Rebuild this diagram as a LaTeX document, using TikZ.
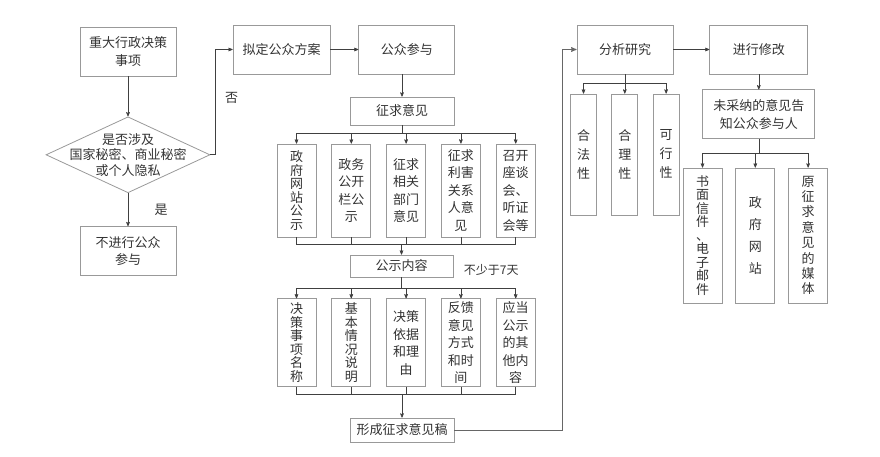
\documentclass[tikz,border=0pt]{standalone}
\usepackage{fontspec}
\setmainfont{Noto Sans CJK SC}
\usetikzlibrary{positioning, shapes.geometric, arrows}

\newcommand{\boxfont}{\fontsize{13}{17.5}\selectfont}
\newcommand{\colfont}{\fontsize{13}{13.5}\selectfont}

\begin{document}
\begin{tikzpicture}[
        x=1pt, y=-1pt,
        box/.style={
                draw=black!40,
                line width=0.8pt,
                text=black!80,
                inner sep=0pt,
                align=center,
                font=\boxfont
            },
        headbox/.style={box, minimum width=97pt, minimum height=49pt},
        flatbox/.style={box, minimum width=104pt, minimum height=25pt},
        tallbox/.style={box, minimum width=39pt, minimum height=93pt},
        shortbox/.style={box, minimum width=39pt, minimum height=88pt},
        slimbox/.style={box, minimum width=26pt, minimum height=121pt, font=\fontsize{13}{19}\selectfont},
        mediabox/.style={box, minimum width=39pt, minimum height=135pt},
        decision/.style={
                diamond,
                draw=black!40,
                line width=0.8pt,
                inner sep=0pt,
                minimum width=164pt,
                minimum height=76pt
            },
        tag/.style={text=black!80, font=\fontsize{13}{15}\selectfont},
        line/.style={draw=black!75, line width=0.6pt, ->},
        fork/.style={line, to path={-| (\tikztotarget)}},
        merge/.style={draw=black!75, line width=0.6pt, to path={|- (\tikztotarget)}},
        >= stealth'
    ]
    \useasboundingbox (0,0) rectangle (880,457);

    % left column
    \node[headbox, minimum width=96pt] (event) at (128,51.5) {重大行政决策\\事项};
    \node[decision] (secret) [below=40pt of event] {};
    \node[tag, align=center, font=\fontsize{13}{15.5}\selectfont] (secret_text) at (secret) {是否涉及\\国家秘密、商业秘密\\或个人隐私};
    \node[headbox, minimum width=96pt] (nopub) [below=33pt of secret] {不进行公众\\参与};

    % public participation
    \node[headbox] (plan) at (281.5,49.5) {拟定公众方案};
    \node[headbox, minimum width=96pt] (participate) [right=28pt of plan] {公众参与};
    \node[flatbox, minimum height=28pt] (solicit) at (402,111) {征求意见};

    \node[tallbox, font=\colfont] (a1) at (296.5,190.5) {政\\府\\网\\站\\公\\示};
    \node[tallbox] (a2) [right=15pt of a1] {政务\\公开\\栏公\\示};
    \node[tallbox] (a3) [right=15pt of a2] {征求\\相关\\部门\\意见};
    \node[tallbox] (a4) [right=15pt of a3] {征求\\利害\\关系\\人意\\见};
    \node[tallbox] (a5) [right=15pt of a4] {召开\\座谈\\会、\\听证\\会等};

    \node[flatbox, minimum width=103pt, minimum height=22pt] (notice) at (401.5,266) {公示内容};
    \node[tag, font=\fontsize{12}{14}\selectfont, yshift=-4pt] (days) [right=7pt of notice] {不少于7天};

    \node[shortbox, font=\colfont] (b1) [below=61pt of a1] {决\\策\\事\\项\\名\\称};
    \node[shortbox, font=\colfont] (b2) [right=15pt of b1] {基\\本\\情\\况\\说\\明};
    \node[shortbox] (b3) [right=15pt of b2] {决策\\依据\\和理\\由};
    \node[shortbox] (b4) [right=15pt of b3] {反馈\\意见\\方式\\和时\\间};
    \node[shortbox] (b5) [right=15pt of b4] {应当\\公示\\的其\\他内\\容};

    \node[flatbox, minimum height=24pt] (draft) at (402,430) {形成征求意见稿};

    % analysis and revision
    \node[headbox, minimum width=96pt] (analyze) at (625,49.5) {分析研究};
    \node[headbox, minimum width=98pt] (revise) [right=36pt of analyze] {进行修改};

    \node[slimbox] (c1) at (583.5,154.5) {合\\法\\性};
    \node[slimbox] (c2) [right=14.5pt of c1] {合\\理\\性};
    \node[slimbox] (c3) [right=14.5pt of c2] {可\\行\\性};

    \node[headbox, minimum width=112pt] (notify) [below=15pt of revise] {未采纳的意见告\\知公众参与人};

    \node[mediabox, font=\colfont] (d1) at (702.5,235.5) {书\\面\\信\\件\\、\\电\\子\\邮\\件};
    \node[mediabox, font=\fontsize{13}{22}\selectfont] (d2) [right=13pt of d1] {政\\府\\网\\站};
    \node[mediabox, font=\fontsize{13}{15.4}\selectfont] (d3) [right=13pt of d2] {原\\征\\求\\意\\见\\的\\媒\\体};

    % branch points
    \coordinate (solicit_fork) at ([yshift=-8pt]solicit.south);
    \coordinate (notice_merge) at ([yshift=10pt]notice.north);
    \coordinate (notice_fork) at ([yshift=-11pt]notice.south);
    \coordinate (draft_merge) at ([yshift=23pt]draft.north);
    \coordinate (analyze_fork) at ([yshift=-9pt]analyze.south);
    \coordinate (notify_fork) at ([yshift=-14pt]notify.south);

    % connectors
    \draw[line] (event.south) -- (secret.north);
    \draw[line] (secret.south) -- node[tag, right=23pt] (yes) {是} (nopub.north);
    \draw[line] (secret.east) -- ++(5,0) |- node[tag, pos=0.27, right=6pt] (no) {否} (plan.west);
    \draw[line] (plan) -- (participate);
    \draw[line] (participate.south -| solicit.north) -- (solicit.north);

    \draw[merge] (solicit.south) -- (solicit_fork);
    \path (solicit_fork) edge[fork] (a1.north) edge[fork] (a2.north) edge[fork] (a3.north)
        edge[fork] (a4.north) edge[fork] (a5.north);
    \path (a1.south) edge[merge] (notice_merge) (a2.south) edge[merge] (notice_merge)
        (a3.south) edge[merge] (notice_merge) (a4.south) edge[merge] (notice_merge)
        (a5.south) edge[merge] (notice_merge);
    \draw[line] (notice_merge) -- (notice.north);

    \draw[merge] (notice.south) -- (notice_fork);
    \path (notice_fork) edge[fork] (b1.north) edge[fork] (b2.north) edge[fork] (b3.north)
        edge[fork] (b4.north) edge[fork] (b5.north);
    \path (b1.south) edge[merge] (draft_merge) (b2.south) edge[merge] (draft_merge)
        (b3.south) edge[merge] (draft_merge) (b4.south) edge[merge] (draft_merge)
        (b5.south) edge[merge] (draft_merge);
    \draw[line] (draft_merge) -- (draft.north);

    \draw[line, line width=1pt, draw=black!60] (draft.east) -| ([xshift=-14pt]analyze.west) -- (analyze.west);
    \draw[line] (analyze) -- (revise);
    \draw[merge] (analyze.south) -- (analyze_fork);
    \path (analyze_fork) edge[fork] (c1.north) edge[fork] (c2.north) edge[fork] (c3.north);

    \draw[line] (revise) -- (notify);
    \draw[merge] (notify.south) -- (notify_fork);
    \path (notify_fork) edge[fork] (d1.north) edge[fork] (d2.north) edge[fork] (d3.north);
\end{tikzpicture}
\end{document}
